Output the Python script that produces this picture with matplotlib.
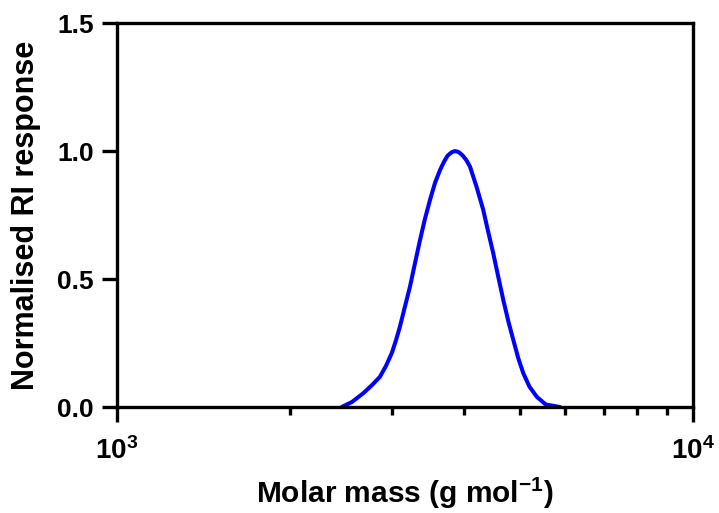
import matplotlib
matplotlib.use('Agg')
import matplotlib.pyplot as plt
from matplotlib.ticker import FixedLocator, NullFormatter

plt.rcParams['font.family'] = ['Liberation Sans', 'DejaVu Sans']
plt.rcParams['font.weight'] = 'bold'
plt.rcParams['mathtext.fontset'] = 'custom'
plt.rcParams['mathtext.rm'] = 'Liberation Sans:bold'
plt.rcParams['mathtext.bf'] = 'Liberation Sans:bold'
plt.rcParams['mathtext.it'] = 'Liberation Sans:bold'

# molar mass (g/mol) and normalised RI response
molar_mass = [2455, 2560, 2677, 2770, 2861, 2930, 2999, 3050, 3099, 3160, 3226,
              3290, 3358, 3425, 3495, 3565, 3638, 3700, 3750, 3810, 3862, 3920,
              3980, 4040, 4101, 4210, 4324, 4410, 4501, 4590, 4685, 4780, 4876,
              4975, 5075, 5200, 5355, 5550, 5876]
response = [0.0, 0.02, 0.054, 0.085, 0.118, 0.16, 0.21, 0.26, 0.314, 0.39, 0.47,
            0.56, 0.652, 0.735, 0.809, 0.875, 0.926, 0.96, 0.982, 0.995, 1.0, 0.996,
            0.983, 0.965, 0.939, 0.86, 0.77, 0.685, 0.60, 0.51, 0.418, 0.335, 0.262,
            0.19, 0.132, 0.08, 0.04, 0.01, 0.0]

fig = plt.figure(figsize=(7.19, 5.13), dpi=100)
ax = fig.add_axes([0.1627, 0.2066, 0.8011, 0.7485])

ax.plot(molar_mass, response, color='#0000ff', lw=2.9,
        solid_capstyle='round', solid_joinstyle='round')

ax.set_xscale('log')
ax.set_xlim(1e3, 1e4)
ax.set_ylim(0, 1.5)
ax.set_xticks([1e3, 1e4])
ax.set_xticklabels([r'$\mathbf{10^{3}}$', r'$\mathbf{10^{4}}$'])
ax.xaxis.set_minor_locator(FixedLocator([2000, 3000, 4000, 5000, 6000, 7000, 8000, 9000]))
ax.xaxis.set_minor_formatter(NullFormatter())
ax.set_yticks([0, 0.5, 1.0, 1.5])
ax.set_yticklabels(['0.0', '0.5', '1.0', '1.5'])

for s in ax.spines.values():
    s.set_linewidth(2.4)
ax.tick_params(axis='both', which='major', length=10.5, width=2.4, labelsize=19)
ax.tick_params(axis='y', which='major', pad=6)
ax.tick_params(axis='x', which='major', pad=11, labelsize=20)
ax.tick_params(axis='x', which='minor', length=6, width=2.4)

ax.set_xlabel(r'Molar mass (g mol$^{\mathbf{-1}}$)', fontsize=21.5, fontweight='bold', labelpad=8)
ax.set_ylabel('Normalised RI response', fontsize=22, fontweight='bold', labelpad=12)

fig.savefig('out.png', dpi=100)
